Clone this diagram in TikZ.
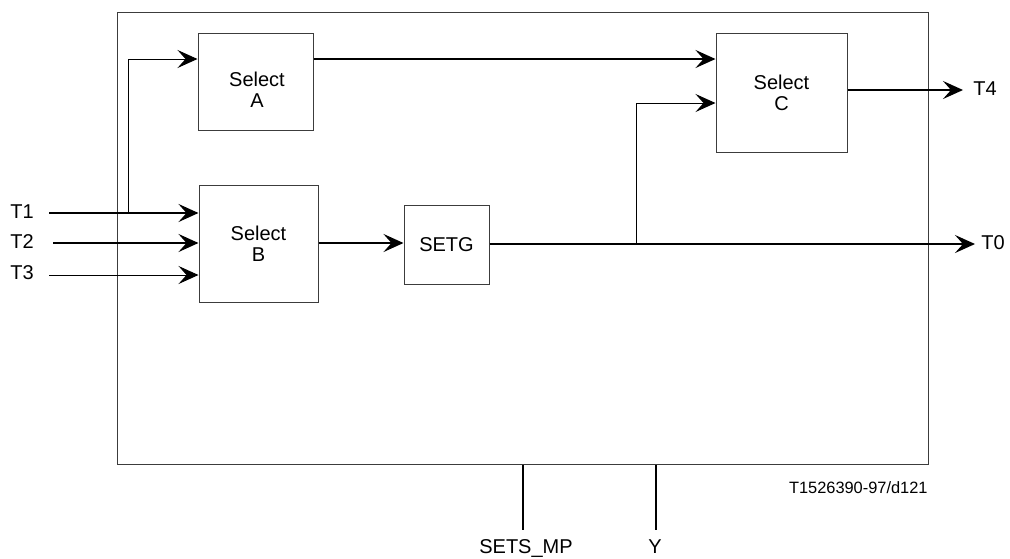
\documentclass[tikz,border=0pt]{standalone}
\usepackage{fontspec}
\setmainfont{Liberation Sans}
\usetikzlibrary{arrows.meta,positioning,calc}
\definecolor{framecol}{RGB}{60,60,60}

\begin{document}
\begin{tikzpicture}[x=0.5pt,y=-0.5pt,font=\fontsize{10}{10.5}\selectfont,
  blk/.style={draw=framecol,line width=0.5pt,align=center,inner sep=0pt},
  sig/.style={line width=1.1pt,-{Stealth[length=10pt,width=9pt,inset=4pt]}},
  thinsig/.style={line width=0.5pt,-{Stealth[length=10pt,width=9pt,inset=4pt]}},
  lbl/.style={inner sep=0pt}]
  \useasboundingbox (0,0) rectangle (1010,558);
  \node[draw=framecol,line width=0.5pt,minimum width=405.5pt,minimum height=226pt,inner sep=0pt] (frame) at (522.5,238){};
  \node[blk,minimum width=57.5pt,minimum height=48.5pt] (selA) at (255.5,81.5){};
  \node[align=center,inner sep=0pt] (selAtxt) at (257,90){Select\\A};
  \node[blk,minimum width=59.5pt,minimum height=58.5pt] (selB) at (258.5,243.5){Select\\B};
  \node[blk,minimum width=42.5pt,minimum height=39.5pt] (setg) at (446.5,244.5){SETG};
  \node[blk,minimum width=65.5pt,minimum height=59.5pt] (selC) at (781.5,92.5){Select\\C};
  % inputs
  \node[lbl,anchor=base west] (t1) at (10,218){T1};
  \node[lbl,anchor=base west] (t2) at (10,248){T2};
  \node[lbl,anchor=base west] (t3) at (10,279){T3};
  \coordinate (t1s) at (49,213);
  \coordinate (t2s) at (53,243);
  \coordinate (t3s) at (49,275);
  \coordinate (fork1) at (128,213);
  \draw[sig] (t1s)--(selB.west |- t1s);
  \draw[sig] (t2s)--(selB.west |- t2s);
  \draw[thinsig] (t3s)--(selB.west |- t3s);
  \draw[thinsig] (fork1)--(fork1 |- 0,59)--(selA.west |- 0,59);
  % inner paths
  \draw[sig] (selA.east |- 0,59)--(selC.west |- 0,59);
  \draw[sig] (selB.east |- 0,243)--(setg.west |- 0,243);
  \coordinate (fork2) at (636,244);
  \draw[thinsig] (fork2)--(fork2 |- 0,103)--(selC.west |- 0,103);
  % outputs
  \node[lbl,anchor=base west] (t4) at (973,95){T4};
  \node[lbl,anchor=base west] (t0) at (981,249){T0};
  \coordinate (t4e) at (963,90);
  \coordinate (t0e) at (975,244);
  \draw[sig] (selC.east |- t4e)--(t4e);
  \draw[sig] (setg.east |- t0e)--(t0e);
  % bottom lines
  \node[lbl,anchor=base] (setsmp) at (526,553){SETS\_MP};
  \node[lbl,anchor=base] (yy) at (655,553){Y};
  \draw[line width=1.1pt] (frame.south -| 523,0)--(523,530);
  \draw[line width=1.1pt] (frame.south -| 656,0)--(656,530);
  \node[lbl,anchor=base east,font=\fontsize{8.2}{9}\selectfont] (code) at (928,493){T1526390-97/d121};
\end{tikzpicture}
\end{document}
